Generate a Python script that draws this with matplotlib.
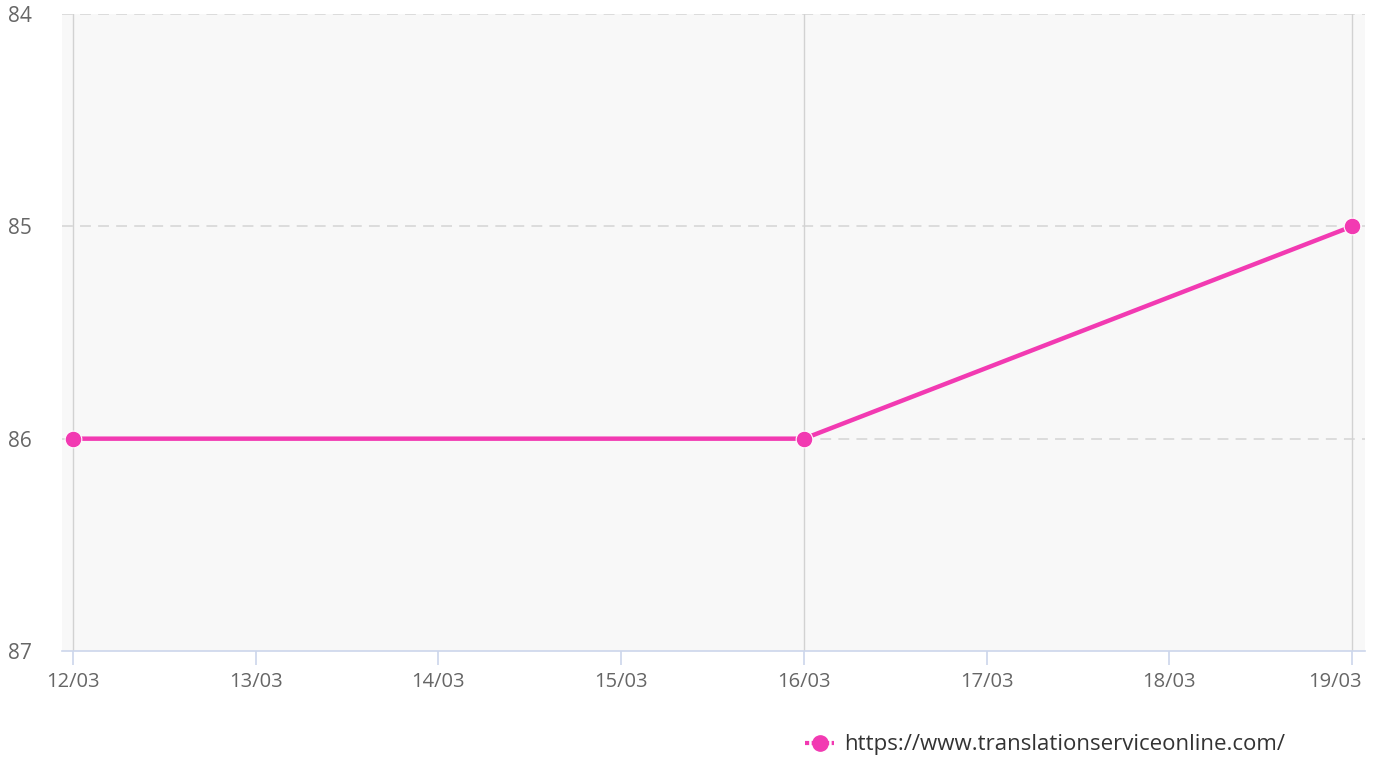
import matplotlib.pyplot as plt
import matplotlib.transforms as mtransforms
from matplotlib.lines import Line2D

plt.rcParams['font.family'] = ['Open Sans', 'DejaVu Sans']

day_labels = ['12/03', '13/03', '14/03', '15/03', '16/03', '17/03', '18/03', '19/03']
point_days = ['12/03', '16/03', '19/03']
positions = [86, 86, 85]
y_ticks = [84, 85, 86, 87]
series_name = 'https://www.translationserviceonline.com/'

pink = '#f23ab2'

fig = plt.figure(figsize=(13.75, 7.6), dpi=100)
ax = fig.add_axes([0.0451, 0.1434, 0.9476, 0.8382])
ax.set_facecolor('#f8f8f8')

xs = [day_labels.index(d) for d in point_days]

# horizontal dashed grid
for y in y_ticks[:-1]:
    ax.axhline(y, color='#d9d9d9', lw=1.3, ls=(0, (6, 4)), zorder=1)
# vertical grid only at data points
for x in xs:
    ax.axvline(x, color='#d2d2d2', lw=1.0, zorder=1)

ax.plot(xs, positions, color=pink, lw=3.2, marker='o', markersize=12,
        markerfacecolor=pink, markeredgecolor='white', markeredgewidth=0.8,
        zorder=3, clip_on=False)

ax.set_xlim(-0.06, 7.07)
ax.set_ylim(87, 84)
ax.set_yticks(y_ticks)
ax.set_xticks(range(len(day_labels)))
ax.set_xticklabels(day_labels)

for s in ['left', 'right', 'top']:
    ax.spines[s].set_visible(False)
ax.spines['bottom'].set_color('#ccd6eb')
ax.spines['bottom'].set_linewidth(1.2)

ax.tick_params(axis='x', colors='#ccd6eb', length=10, width=1.2, labelcolor='#666666',
               labelsize=14.5, pad=5)
ax.tick_params(axis='y', length=0, labelcolor='#666666', labelsize=15, pad=39)
for lab in ax.get_yticklabels():
    lab.set_horizontalalignment('left')

# keep the last date label inside the figure
last = ax.get_xticklabels()[-1]
last.set_transform(last.get_transform() +
                   mtransforms.ScaledTranslation(-17 / 100, 0, fig.dpi_scale_trans))

handle = Line2D([], [], color=pink, lw=3, ls=(0, (1, 0.6)), marker='o', markersize=11,
                markerfacecolor=pink, markeredgecolor=pink)
fig.legend([handle], [series_name], loc='center left', bbox_to_anchor=(0.571, 0.02),
           frameon=False, fontsize=16, handlelength=1.3, handletextpad=0.45,
           labelcolor='#333333')

fig.savefig('out.png', dpi=100)
